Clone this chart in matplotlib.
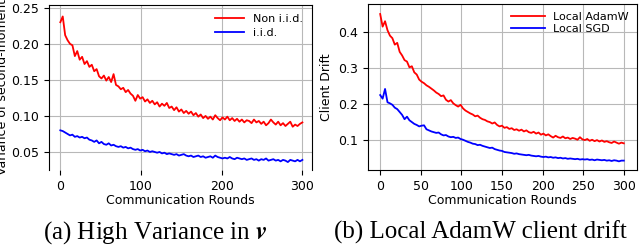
import matplotlib.pyplot as plt

plt.rcParams['mathtext.fontset'] = 'stix'

rounds = list(range(0, 301, 3))

# (a) variance of second-moment estimate
var_non_iid = [
    0.230, 0.238, 0.212, 0.205, 0.200, 0.198, 0.183, 0.190, 0.178, 0.182,
    0.172, 0.176, 0.168, 0.171, 0.162, 0.165, 0.155, 0.152, 0.156, 0.149,
    0.154, 0.147, 0.158, 0.143, 0.141, 0.137, 0.139, 0.133, 0.136, 0.131,
    0.128, 0.121, 0.129, 0.124, 0.126, 0.120, 0.123, 0.118, 0.121, 0.116,
    0.119, 0.113, 0.117, 0.114, 0.118, 0.111, 0.113, 0.108, 0.112, 0.106,
    0.109, 0.104, 0.107, 0.103, 0.106, 0.101, 0.104, 0.099, 0.102, 0.097,
    0.100, 0.096, 0.099, 0.095, 0.101, 0.097, 0.094, 0.098, 0.095, 0.099,
    0.094, 0.097, 0.093, 0.096, 0.092, 0.095, 0.091, 0.094, 0.093, 0.090,
    0.095, 0.091, 0.093, 0.089, 0.092, 0.087, 0.090, 0.095, 0.091, 0.088,
    0.092, 0.087, 0.090, 0.086, 0.089, 0.092, 0.085, 0.088, 0.086, 0.089,
    0.091,
]
var_iid = [
    0.080, 0.079, 0.077, 0.075, 0.073, 0.074, 0.071, 0.072, 0.070, 0.071,
    0.069, 0.070, 0.067, 0.066, 0.064, 0.066, 0.062, 0.064, 0.061, 0.060,
    0.062, 0.059, 0.060, 0.058, 0.057, 0.058, 0.056, 0.057, 0.055, 0.056,
    0.054, 0.053, 0.054, 0.052, 0.053, 0.051, 0.052, 0.050, 0.051, 0.050,
    0.049, 0.050, 0.048, 0.049, 0.047, 0.048, 0.047, 0.046, 0.047, 0.045,
    0.046, 0.047, 0.045, 0.044, 0.045, 0.043, 0.044, 0.045, 0.043, 0.044,
    0.042, 0.043, 0.044, 0.042, 0.045, 0.043, 0.042, 0.041, 0.042, 0.041,
    0.043, 0.041, 0.040, 0.042, 0.041, 0.040, 0.041, 0.039, 0.040, 0.041,
    0.039, 0.040, 0.038, 0.040, 0.039, 0.041, 0.038, 0.039, 0.040, 0.038,
    0.039, 0.037, 0.039, 0.038, 0.036, 0.039, 0.038, 0.037, 0.039, 0.037,
    0.039,
]

# (b) client drift
drift_adamw = [
    0.450, 0.415, 0.430, 0.405, 0.390, 0.383, 0.365, 0.370, 0.345, 0.335,
    0.322, 0.318, 0.302, 0.305, 0.288, 0.282, 0.268, 0.262, 0.258, 0.252,
    0.248, 0.243, 0.238, 0.232, 0.228, 0.222, 0.224, 0.212, 0.207, 0.211,
    0.202, 0.197, 0.193, 0.198, 0.188, 0.182, 0.178, 0.174, 0.171, 0.166,
    0.168, 0.162, 0.158, 0.156, 0.152, 0.150, 0.146, 0.149, 0.142, 0.138,
    0.140, 0.134, 0.136, 0.131, 0.133, 0.128, 0.130, 0.126, 0.129, 0.124,
    0.127, 0.122, 0.120, 0.123, 0.118, 0.121, 0.115, 0.118, 0.113, 0.116,
    0.111, 0.107, 0.112, 0.108, 0.106, 0.110, 0.105, 0.107, 0.103, 0.106,
    0.104, 0.101, 0.108, 0.102, 0.100, 0.103, 0.098, 0.101, 0.097, 0.100,
    0.096, 0.099, 0.095, 0.097, 0.094, 0.092, 0.096, 0.093, 0.090, 0.093,
    0.091,
]
drift_sgd = [
    0.225, 0.215, 0.242, 0.205, 0.202, 0.198, 0.190, 0.186, 0.178, 0.170,
    0.158, 0.165, 0.155, 0.150, 0.145, 0.142, 0.138, 0.140, 0.141, 0.130,
    0.127, 0.124, 0.122, 0.120, 0.121, 0.116, 0.113, 0.114, 0.110, 0.108,
    0.109, 0.106, 0.107, 0.103, 0.101, 0.098, 0.095, 0.093, 0.090, 0.089,
    0.086, 0.087, 0.084, 0.082, 0.080, 0.078, 0.079, 0.075, 0.073, 0.071,
    0.070, 0.067, 0.066, 0.065, 0.064, 0.062, 0.063, 0.061, 0.060, 0.059,
    0.058, 0.059, 0.057, 0.056, 0.055, 0.056, 0.054, 0.053, 0.054, 0.052,
    0.053, 0.051, 0.052, 0.050, 0.051, 0.049, 0.050, 0.048, 0.049, 0.048,
    0.047, 0.048, 0.046, 0.047, 0.046, 0.047, 0.045, 0.046, 0.044, 0.046,
    0.045, 0.044, 0.045, 0.043, 0.044, 0.042, 0.044, 0.043, 0.041, 0.043,
    0.043,
]

fig = plt.figure(figsize=(6.4, 2.46), dpi=100)
ax1 = fig.add_axes([0.0766, 0.309, 0.411, 0.671])
ax2 = fig.add_axes([0.575, 0.309, 0.420, 0.675])

# left panel
ax1.plot(rounds, var_non_iid, color='red', lw=1.3, label='Non i.i.d.')
ax1.plot(rounds, var_iid, color='blue', lw=1.3, label='i.i.d.')
ax1.set_xlim(-14, 312)
ax1.set_ylim(0.025, 0.254)
ax1.set_xticks([0, 100, 200, 300])
ax1.set_yticks([0.05, 0.10, 0.15, 0.20, 0.25])
ax1.grid(True, color='#b8b8b8', lw=0.8)
ax1.spines['bottom'].set_visible(False)
ax1.tick_params(labelsize=9)
ax1.set_xlabel('Communication Rounds', fontsize=9, labelpad=1)
ax1.set_ylabel('Variance of second-moment', fontsize=9, labelpad=2)
ax1.legend(loc='upper right', fontsize=8, frameon=False, handlelength=2.6,
           labelspacing=0.35, borderaxespad=0.4)

# right panel
ax2.plot(rounds, drift_adamw, color='red', lw=1.3, label='Local AdamW')
ax2.plot(rounds, drift_sgd, color='blue', lw=1.3, label='Local SGD')
ax2.set_xlim(-15, 316)
ax2.set_ylim(0.017, 0.478)
ax2.set_xticks([0, 50, 100, 150, 200, 250, 300])
ax2.set_yticks([0.1, 0.2, 0.3, 0.4])
ax2.grid(True, color='#b8b8b8', lw=0.8)
ax2.tick_params(labelsize=9)
ax2.set_xlabel('Communication Rounds', fontsize=9, labelpad=1)
ax2.set_ylabel('Client Drift', fontsize=9, labelpad=4)
ax2.legend(loc='upper right', fontsize=8, frameon=False, handlelength=3.0,
           labelspacing=0.2, borderaxespad=0.3)

# captions
fig.text(0.242, 0.03, r'(a) High Variance in $\mathbfit{v}$', ha='center',
         fontsize=18, family='Liberation Serif')
fig.text(0.75, 0.03, '(b) Local AdamW client drift', ha='center',
         fontsize=18, family='Liberation Serif')

fig.savefig('out.png', dpi=100)
